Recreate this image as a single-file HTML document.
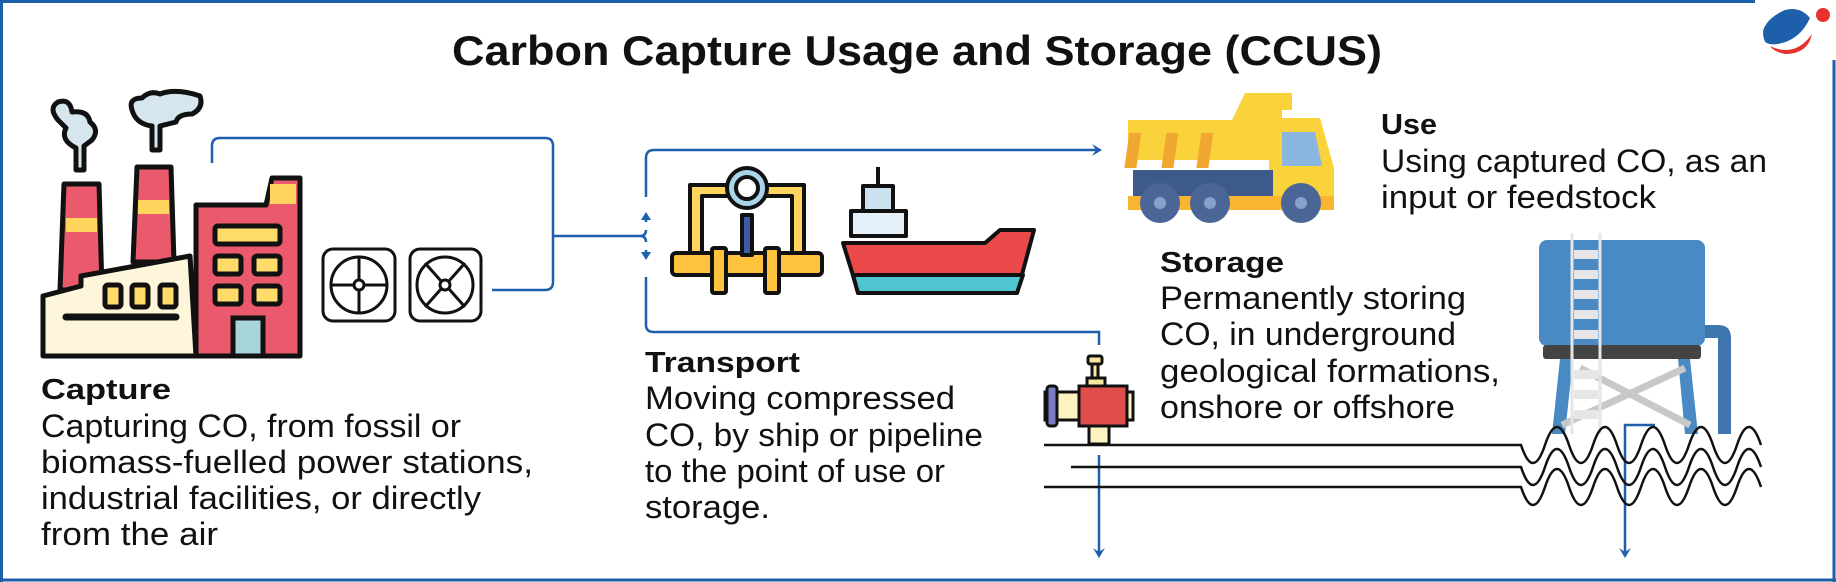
<!DOCTYPE html>
<html><head><meta charset="utf-8"><style>
html,body{margin:0;padding:0;background:#fff;}
svg{display:block;}
text{font-family:"Liberation Sans",sans-serif;fill:#111;}
</style></head><body>
<svg width="1836" height="582" viewBox="0 0 1836 582" xmlns="http://www.w3.org/2000/svg">
<g stroke="#1d5fab" stroke-width="3" fill="none">
<line x1="0" y1="1.5" x2="1755" y2="1.5"/>
<line x1="1.5" y1="0" x2="1.5" y2="582"/>
<line x1="0" y1="580" x2="1836" y2="580"/>
<line x1="1834" y1="60" x2="1834" y2="582"/>
</g>
<path d="M1785 10 Q1762 20 1762 38 Q1766 46 1778 44 Q1800 40 1810 18 Q1800 6 1785 10Z" fill="#1d5fab"/>
<path d="M1770 12 Q1758 28 1764 42" stroke="#fff" stroke-width="2" fill="none"/>
<circle cx="1823" cy="15" r="7" fill="#e8322e"/>
<path d="M1770 46 Q1795 58 1812 34 Q1808 54 1785 54 Q1774 52 1770 46Z" fill="#e8322e"/>
<text x="917" y="65" text-anchor="middle" font-size="42" font-weight="bold" textLength="930" lengthAdjust="spacingAndGlyphs">Carbon Capture Usage and Storage (CCUS)</text>

<g stroke="#111" stroke-width="5" stroke-linejoin="round">
<path d="M58 120 Q48 108 58 102 Q70 98 72 112 Q88 110 90 122 Q100 130 92 140 L84 146 L84 170 L76 170 L76 148 Q60 140 66 128Z" fill="#d6e6ef"/>
<path d="M132 110 Q128 98 142 98 Q150 90 160 94 Q176 88 200 96 Q204 108 192 114 Q178 114 176 122 L160 126 L160 150 L152 150 L152 126 Q136 124 132 110Z" fill="#d6e6ef"/>
<path d="M64 184 L99 184 L102 290 L60 290Z" fill="#ea5a6c"/>
<path d="M137 167 L171 167 L174 262 L133 262Z" fill="#ea5a6c"/>
<path d="M43 296 L81 286 L81 276 L190 256 L196 356 L43 356Z" fill="#fdf6db"/>
<path d="M196 205 L266 205 L272 178 L300 178 L300 356 L196 356Z" fill="#ea5a6c"/>
</g>
<rect x="66" y="218" width="31" height="14" fill="#ffd45c"/>
<rect x="138" y="200" width="31" height="14" fill="#ffd45c"/>
<rect x="270" y="184" width="26" height="20" fill="#ffd45c"/>
<g fill="#ffdc6a" stroke="#111" stroke-width="5">
<rect x="215" y="226" width="65" height="18" rx="3"/>
<rect x="215" y="256" width="26" height="18" rx="3"/><rect x="254" y="256" width="26" height="18" rx="3"/>
<rect x="215" y="286" width="26" height="18" rx="3"/><rect x="254" y="286" width="26" height="18" rx="3"/>
<rect x="105" y="285" width="16" height="22" rx="3"/><rect x="132" y="285" width="16" height="22" rx="3"/><rect x="160" y="285" width="16" height="22" rx="3"/>
<rect x="233" y="318" width="30" height="38" fill="#a8d5d8"/>
</g>
<line x1="66" y1="317" x2="176" y2="317" stroke="#111" stroke-width="7" stroke-linecap="round"/>
<g stroke="#111" stroke-width="3" fill="#fff">
<rect x="323" y="249" width="72" height="72" rx="10"/>
<circle cx="359" cy="285" r="28"/><circle cx="359" cy="285" r="5"/>
<path d="M331 285 H354 M364 285 H387 M359 257 V280 M359 290 V313" fill="none"/>
<rect x="410" y="249" width="71" height="72" rx="10"/>
<circle cx="445" cy="285" r="28"/><circle cx="445" cy="285" r="5"/>
<path d="M441 281 L425 263 M449 281 L465 263 M441 289 L425 307 M449 289 L465 307" fill="none"/>
</g>
<g stroke="#1d5fab" stroke-width="2.5" fill="none">
<path d="M212 163 V146 Q212 138 220 138 H545 Q553 138 553 146 V282 Q553 290 545 290 H492"/>
<path d="M553 236 H640 Q646 236 646 230 M640 236 Q646 236 646 242"/>
<path d="M646 197 V158 Q646 150 654 150 H1096"/>
<path d="M646 277 V325 Q646 332 654 332 H1099 V345"/>
<path d="M646 222 V214 M646 250 V258"/>
<path d="M1099 455 V555"/>
<path d="M1655 425 H1625 V555"/>
</g>
<g fill="#1d5fab">
<path d="M641 220 L646 212 L651 220Z"/><path d="M641 252 L646 260 L651 252Z"/>
<path d="M1092 144 L1102 150 L1092 156 L1096 150Z"/>
<path d="M1093 548 L1099 558 L1105 548 L1099 552Z"/>
<path d="M1619 548 L1625 558 L1631 548 L1625 552Z"/>
</g>
<g stroke="#111" stroke-width="4" stroke-linejoin="round">
<path d="M690 185 H730 V196 H702 V260 H690Z" fill="#ffd45c"/>
<path d="M765 185 H804 V260 H792 V196 H765Z" fill="#ffd45c"/>
<rect x="672" y="253" width="150" height="22" rx="4" fill="#ffc23d"/>
<rect x="712" y="248" width="14" height="45" rx="2" fill="#ffc23d"/>
<rect x="765" y="248" width="14" height="45" rx="2" fill="#ffc23d"/>
<rect x="742" y="215" width="10" height="40" fill="#3c5ba8"/>
<circle cx="747" cy="188" r="20" fill="#a8d5e8"/>
<circle cx="747" cy="188" r="11" fill="#fff"/>
</g>
<g stroke="#111" stroke-width="4" stroke-linejoin="round">
<line x1="878" y1="167" x2="878" y2="186"/>
<rect x="863" y="186" width="30" height="25" fill="#cce2f0"/>
<rect x="851" y="211" width="55" height="25" fill="#e5f0f8"/>
<path d="M843 243 L985 243 L1000 230 L1034 230 L1017 293 L858 293 L852 272Z" fill="#ea4a4a"/>
<path d="M853 275 L1023 275 L1017 293 L858 293Z" fill="#4fc5d0"/>
</g>
<path d="M1128 120 H1232 L1245 93 H1292 V110 H1282 V160 H1128Z" fill="#fad23c"/>
<g fill="#f0a830"><rect x="1148" y="133" width="12" height="35" transform="skewX(-8)"/><rect x="1185" y="133" width="12" height="35" transform="skewX(-8)"/><rect x="1220" y="133" width="12" height="35" transform="skewX(-8)"/></g>
<path d="M1269 118 H1320 L1334 168 V210 H1269Z" fill="#fad23c"/>
<path d="M1282 132 H1315 L1322 166 H1282Z" fill="#8ab6e0"/>
<rect x="1133" y="170" width="140" height="35" fill="#3d5a8a"/>
<rect x="1128" y="196" width="206" height="14" fill="#f9b530"/>
<g fill="#4c6597"><circle cx="1160" cy="203" r="20"/><circle cx="1210" cy="203" r="20"/><circle cx="1301" cy="203" r="20"/></g>
<g fill="#8aa0cc"><circle cx="1160" cy="203" r="6"/><circle cx="1210" cy="203" r="6"/><circle cx="1301" cy="203" r="6"/></g>
<rect x="1539" y="240" width="166" height="106" rx="8" fill="#4a8ac4"/>
<rect x="1543" y="345" width="158" height="14" rx="3" fill="#444"/>
<path d="M1705 325 H1718 Q1731 325 1731 338 V434 H1718 V338 H1705Z" fill="#4076ae"/>
<path d="M1560 359 L1573 359 L1565 434 L1552 434Z" fill="#4a8ac4"/>
<path d="M1678 359 L1690 359 L1698 434 L1685 434Z" fill="#4a8ac4"/>
<path d="M1562 425 L1685 368 M1580 368 L1690 425" stroke="#c8c8c8" stroke-width="7"/>
<g stroke="#e6e6e6" stroke-width="3" fill="none"><line x1="1572" y1="233" x2="1572" y2="434"/><line x1="1600" y1="233" x2="1600" y2="434"/></g>
<g fill="#e6e6e6"><rect x="1574" y="250" width="24" height="9"/><rect x="1574" y="270" width="24" height="9"/><rect x="1574" y="290" width="24" height="9"/><rect x="1574" y="310" width="24" height="9"/><rect x="1574" y="330" width="24" height="9"/><rect x="1574" y="370" width="24" height="9"/><rect x="1574" y="390" width="24" height="9"/><rect x="1574" y="410" width="24" height="9"/></g>
<g stroke="#111" stroke-width="3">
<rect x="1088" y="356" width="14" height="8" rx="2" fill="#fbe8a0"/>
<rect x="1092" y="364" width="6" height="14" fill="#fbe8a0"/>
<rect x="1087" y="378" width="18" height="8" fill="#fbe8a0"/>
<rect x="1045" y="392" width="88" height="28" fill="#fdf3c0"/>
<rect x="1079" y="386" width="48" height="40" fill="#e04e4a"/>
<rect x="1047" y="386" width="10" height="40" rx="3" fill="#7a7cc4"/>
<rect x="1089" y="426" width="20" height="18" fill="#fdf3c0"/>
</g>
<g stroke="#111" stroke-width="2.5" fill="none">
<path d="M1044 445 H1521 q12 36 24 0 t24 0 t24 0 t24 0 t24 0 t24 0 t24 0 t24 0 t24 0 t24 0"/>
<path d="M1071 467 H1521 q12 36 24 0 t24 0 t24 0 t24 0 t24 0 t24 0 t24 0 t24 0 t24 0 t24 0"/>
<path d="M1044 487 H1521 q12 36 24 0 t24 0 t24 0 t24 0 t24 0 t24 0 t24 0 t24 0 t24 0 t24 0"/>
</g>
<g font-size="32">
<g font-weight="bold" font-size="29">
<text x="41" y="399" textLength="130" lengthAdjust="spacingAndGlyphs">Capture</text>
<text x="645" y="372" textLength="155" lengthAdjust="spacingAndGlyphs">Transport</text>
<text x="1381" y="134" textLength="56" lengthAdjust="spacingAndGlyphs">Use</text>
<text x="1160" y="272" textLength="124" lengthAdjust="spacingAndGlyphs">Storage</text>
</g>
<g lengthAdjust="spacingAndGlyphs">
<text x="41" y="437" textLength="420" lengthAdjust="spacingAndGlyphs">Capturing CO, from fossil or</text>
<text x="41" y="473" textLength="492" lengthAdjust="spacingAndGlyphs">biomass-fuelled power stations,</text>
<text x="41" y="509" textLength="440" lengthAdjust="spacingAndGlyphs">industrial facilities, or directly</text>
<text x="41" y="545" textLength="177" lengthAdjust="spacingAndGlyphs">from the air</text>
<text x="645" y="409" textLength="310" lengthAdjust="spacingAndGlyphs">Moving compressed</text>
<text x="645" y="446" textLength="338" lengthAdjust="spacingAndGlyphs">CO, by ship or pipeline</text>
<text x="645" y="482" textLength="300" lengthAdjust="spacingAndGlyphs">to the point of use or</text>
<text x="645" y="518" textLength="125" lengthAdjust="spacingAndGlyphs">storage.</text>
<text x="1381" y="172" textLength="386" lengthAdjust="spacingAndGlyphs">Using captured CO, as an</text>
<text x="1381" y="208" textLength="275" lengthAdjust="spacingAndGlyphs">input or feedstock</text>
<text x="1160" y="309" textLength="306" lengthAdjust="spacingAndGlyphs">Permanently storing</text>
<text x="1160" y="345" textLength="296" lengthAdjust="spacingAndGlyphs">CO, in underground</text>
<text x="1160" y="382" textLength="340" lengthAdjust="spacingAndGlyphs">geological formations,</text>
<text x="1160" y="418" textLength="295" lengthAdjust="spacingAndGlyphs">onshore or offshore</text>
</g>
</g>
</svg>
</body></html>
